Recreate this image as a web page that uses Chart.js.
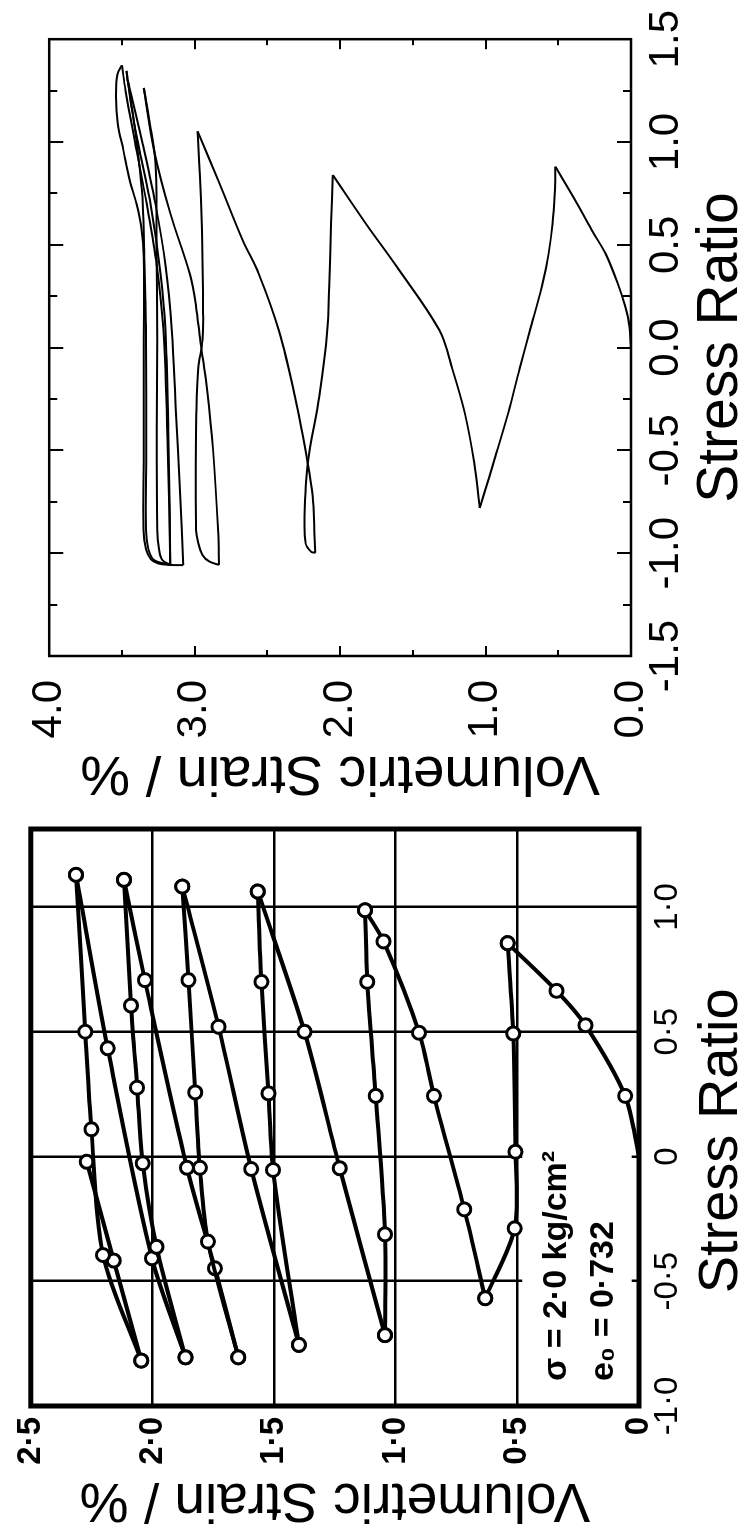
<!DOCTYPE html>
<html>
<head>
<meta charset="utf-8">
<script src="https://cdn.jsdelivr.net/npm/chart.js@4.4.1/dist/chart.umd.min.js"></script>
<style>
  html, body { margin: 0; padding: 0; background: #fff; overflow: hidden; }
  body { width: 746px; height: 1530px; position: relative; }
  /* the figure is laid out landscape and turned a quarter turn */
  #sheet { position: absolute; left: 0; top: 0; width: 1530px; height: 746px;
           transform-origin: 0 0; transform: translateY(1530px) rotate(-90deg); }
  #sheet canvas { position: absolute; top: 0; }
</style>
</head>
<body>
<div id="sheet">
  <canvas id="leftChart" width="720" height="746" style="left:0"></canvas>
  <canvas id="rightChart" width="810" height="746" style="left:720px"></canvas>
</div>
<script>
// right panel, continuous record: [stress ratio, volumetric strain %]
const rLoad1 = [[0,0],[0.1,0.01],[0.2,0.04],[0.3,0.085],[0.45,0.17],[0.56,0.26],[0.7,0.37],[0.88,0.52]];
const rUnload1 = [[0.88,0.52],[0.75,0.525],[0.6,0.54],[0.45,0.568],[0.3,0.612],[0.085,0.694],[-0.1,0.765],[-0.32,0.845],[-0.56,0.945],[-0.7,1.005],[-0.78,1.04]];
const rReload1 = [[-0.78,1.04],[-0.56,1.078],[-0.32,1.142],[-0.1,1.23],[0.085,1.318],[0.393,1.61],[0.6,1.82],[0.839,2.05]];
const rUnload2 = [[0.839,2.05],[0.6,2.062],[0.3,2.075],[0.085,2.088],[-0.239,2.144],[-0.563,2.222],[-0.822,2.244],[-0.952,2.237],[-0.993,2.199],[-0.998,2.17]];
const rReload2 = [[-0.998,2.17],[-0.887,2.177],[-0.725,2.188],[-0.563,2.222],[-0.239,2.31],[0.085,2.422],[0.36,2.56],[0.523,2.67],[0.8,2.83],[1.052,2.98]];
const rUnload3 = [[1.052,2.98],[0.8,2.962],[0.5,2.948],[0.2,2.942],[0.036,2.946],[-0.1,2.975],[-0.3,2.988],[-0.6,2.992],[-0.887,2.99],[-0.95,2.975],[-1.01,2.945],[-1.04,2.9],[-1.057,2.833]];
const rReload3 = [[-1.057,2.833],[-0.9,2.838],[-0.5,2.873],[-0.2,2.915],[-0.05,2.945],[0.036,2.962],[0.2,2.99],[0.36,3.034],[0.652,3.167],[0.96,3.279],[1.263,3.35]];
const rUnload4 = [[1.263,3.35],[1.1,3.31],[0.895,3.27],[0.5,3.262],[0.036,3.257],[-0.4,3.26],[-0.887,3.257],[-0.98,3.245],[-1.033,3.223],[-1.057,3.167]];
const rReload4 = [[-1.057,3.167],[-0.8,3.172],[-0.4,3.182],[0.085,3.2],[0.36,3.234],[0.684,3.3],[0.96,3.379],[1.17,3.435],[1.346,3.468]];
const rUnload5 = [[1.346,3.468],[1.284,3.457],[1.073,3.412],[0.879,3.379],[0.7,3.357],[0.44,3.346],[0.036,3.334],[-0.5,3.333],[-0.887,3.335],[-0.98,3.318],[-1.033,3.28],[-1.057,3.167]];
const rReload5 = [[-1.057,3.167],[-0.5,3.185],[0.085,3.215],[0.4,3.26],[0.7,3.33],[1.0,3.41],[1.25,3.475],[1.373,3.5]];
const rUnload6 = [[1.373,3.5],[1.33,3.53],[1.22,3.54],[1.09,3.528],[0.96,3.49],[0.814,3.446],[0.7,3.4],[0.587,3.367],[0.44,3.35],[0.036,3.35],[-0.5,3.35],[-0.887,3.352],[-0.98,3.335],[-1.03,3.3],[-1.05,3.25],[-1.057,3.17],[-1.058,3.078]];
const rReload6 = [[-1.058,3.078],[-0.7,3.1],[-0.3,3.13],[0.085,3.157],[0.4,3.2],[0.7,3.27],[1.0,3.36],[1.3,3.46]];

// left panel, measured points
const lLoad1 = [[0,0],[0.243,0.057],[0.526,0.22],[0.664,0.339],[0.855,0.54]];
const lUnload1 = [[0.855,0.54],[0.493,0.517],[0.019,0.508],[-0.288,0.511],[-0.568,0.632]];
const lReload1 = [[-0.568,0.632],[-0.212,0.718],[0.243,0.843],[0.496,0.904],[0.862,1.05],[0.987,1.126]];
const lUnload2 = [[0.987,1.126],[0.7,1.117],[0.243,1.082],[-0.312,1.044],[-0.716,1.044]];
const lReload2 = [[-0.716,1.044],[-0.047,1.23],[0.5,1.375],[1.062,1.567]];
const lUnload3 = [[1.062,1.567],[0.7,1.552],[0.253,1.523],[-0.054,1.504],[-0.755,1.398]];
const lReload3 = [[-0.755,1.398],[-0.05,1.594],[0.52,1.728],[1.082,1.877]];
const lUnload4 = [[1.082,1.877],[0.707,1.852],[0.257,1.824],[-0.045,1.805],[-0.341,1.772],[-0.805,1.647]];
const lReload4 = [[-0.805,1.647],[-0.448,1.743],[-0.045,1.858],[0.707,2.031],[1.109,2.117]];
const lUnload5 = [[1.109,2.117],[0.605,2.088],[0.276,2.063],[-0.027,2.04],[-0.362,1.983],[-0.805,1.864]];
const lReload5 = [[-0.805,1.864],[-0.408,2.002],[0.434,2.184],[1.129,2.314]];
const lUnload6 = [[1.129,2.314],[0.5,2.276],[0.109,2.251],[-0.395,2.203],[-0.818,2.046]];
const lReload6 = [[-0.818,2.046],[-0.417,2.159],[-0.021,2.27]];

// tick labels
const rSrTicks = [-1.5, -1.0, -0.5, 0, 0.5, 1.0, 1.5];
const rSrLabels = ['-1.5', '-1.0', '-0.5', '0.0', '0.5', '1.0', '1.5'];
const rStrainTicks = [0, 1, 2, 3, 4];
const rStrainLabels = ['0.0', '1.0', '2.0', '3.0', '4.0'];
const lSrTicks = [-1.0, -0.5, 0, 0.5, 1.0];
const lSrLabels = ['-1·0', '-0·5', '0', '0·5', '1·0'];
const lStrainTicks = [0, 0.5, 1.0, 1.5, 2.0, 2.5];
const lStrainLabels = ['0', '0·5', '1·0', '1·5', '2·0', '2·5'];

const noteLines = ['σ = 2·0 kg/cm²', 'e₀ = 0·732'];

const rightCurves = [rLoad1, rUnload1, rReload1, rUnload2, rReload2, rUnload3, rReload3,
  rUnload4, rReload4, rUnload5, rReload5, rUnload6, rReload6];
const leftBranches = [lLoad1, lUnload1, lReload1, lUnload2, lReload2, lUnload3, lReload3,
  lUnload4, lReload4, lUnload5, lReload5, lUnload6, lReload6];

Chart.defaults.font.family = '"Liberation Sans", Arial, Helvetica, sans-serif';
Chart.defaults.color = '#000';

function toXY(arr) {
  return arr.map(p => ({x: p[0], y: p[1]}));
}

function labelFrom(values, labels) {
  return function (v) {
    let i = values.findIndex(t => Math.abs(t - v) < 1e-6);
    return i < 0 ? '' : labels[i];
  };
}

// frame round the plot area, with short inward ticks on the right panel
const frameTicks = {
  id: 'frameTicks',
  afterDraw(chart, args, opts) {
    let ctx = chart.ctx, a = chart.chartArea;
    let xs = chart.scales.x, ys = chart.scales.y;
    ctx.save();
    ctx.strokeStyle = '#000';
    if (opts.ticks) {
      ctx.lineWidth = 2;
      ctx.beginPath();
      xs.ticks.forEach(t => {
        let p = Math.round(xs.getPixelForValue(t.value));
        let len = t.label ? 14 : 8;
        ctx.moveTo(p, a.bottom); ctx.lineTo(p, a.bottom - len);
        ctx.moveTo(p, a.top); ctx.lineTo(p, a.top + len);
      });
      ys.ticks.forEach(t => {
        let p = Math.round(ys.getPixelForValue(t.value));
        let len = t.label ? 10 : 6;
        ctx.moveTo(a.left, p); ctx.lineTo(a.left + len, p);
        ctx.moveTo(a.right, p); ctx.lineTo(a.right - len, p);
      });
      ctx.stroke();
    }
    ctx.lineWidth = opts.width;
    ctx.strokeRect(a.left, a.top, a.right - a.left, a.bottom - a.top);
    ctx.restore();
  }
};

// test conditions written inside the left panel
const noteText = {
  id: 'noteText',
  beforeDatasetsDraw(chart, args, opts) {
    let ctx = chart.ctx, xs = chart.scales.x, ys = chart.scales.y;
    let l = xs.getPixelForValue(opts.box[0]), r = xs.getPixelForValue(opts.box[1]);
    let t = ys.getPixelForValue(opts.box[3]), b = ys.getPixelForValue(opts.box[2]);
    ctx.save();
    ctx.fillStyle = '#fff';
    ctx.fillRect(l, t, r - l, b - t);
    ctx.restore();
  },
  afterDatasetsDraw(chart, args, opts) {
    let ctx = chart.ctx, xs = chart.scales.x, ys = chart.scales.y;
    ctx.save();
    ctx.fillStyle = '#000';
    ctx.font = 'bold 34px "Liberation Sans", Arial, sans-serif';
    ctx.textAlign = 'left';
    ctx.textBaseline = 'alphabetic';
    opts.lines.forEach((txt, i) => {
      ctx.fillText(txt, xs.getPixelForValue(opts.at[i][0]), ys.getPixelForValue(opts.at[i][1]));
    });
    ctx.restore();
  }
};

let rightChart = new Chart(document.getElementById('rightChart'), {
  type: 'scatter',
  data: {
    datasets: rightCurves.map(c => ({
      data: toXY(c),
      showLine: true,
      borderColor: '#000',
      borderWidth: 2,
      pointRadius: 0,
      tension: 0.35
    }))
  },
  options: {
    responsive: false,
    animation: false,
    events: [],
    layout: { padding: { left: 0, right: 39, top: 32, bottom: 0 } },
    plugins: {
      legend: { display: false },
      tooltip: { enabled: false },
      frameTicks: { ticks: true, width: 2.5 }
    },
    scales: {
      x: {
        type: 'linear', position: 'bottom', min: -1.5, max: 1.5,
        grid: { display: false, drawTicks: false },
        border: { display: false },
        ticks: { stepSize: 0.25, autoSkip: false, maxRotation: 0, padding: 10,
                 font: { size: 42 }, callback: labelFrom(rSrTicks, rSrLabels) },
        title: { display: true, text: 'Stress Ratio', font: { size: 57, lineHeight: 0.8 },
                 padding: { top: 0, bottom: 2 } },
        afterFit: s => { s.height = 115; }
      },
      y: {
        type: 'linear', position: 'left', min: 0, max: 4,
        grid: { display: false, drawTicks: false },
        border: { display: false },
        ticks: { stepSize: 0.5, autoSkip: false, padding: 24,
                 font: { size: 42 }, callback: labelFrom(rStrainTicks, rStrainLabels) },
        title: { display: true, text: 'Volumetric Strain / %', font: { size: 56, lineHeight: 0.8 },
                 padding: { top: 15, bottom: 0 } },
        afterFit: s => { s.width = 154; }
      }
    }
  },
  plugins: [frameTicks]
});

let leftChart = new Chart(document.getElementById('leftChart'), {
  type: 'scatter',
  data: {
    datasets: leftBranches.map((b, k) => ({
      data: toXY(b),
      showLine: true,
      borderColor: '#000',
      borderWidth: 4,
      tension: 0.3,
      pointRadius: ctx => (k === 0 && ctx.dataIndex === 0) ? 0 : 6.5,
      pointBorderWidth: 3,
      pointBorderColor: '#000',
      pointBackgroundColor: '#fff'
    }))
  },
  options: {
    responsive: false,
    animation: false,
    events: [],
    layout: { padding: { left: 0, right: 19, top: 20, bottom: 0 } },
    plugins: {
      legend: { display: false },
      tooltip: { enabled: false },
      frameTicks: { ticks: false, width: 5 },
      noteText: { lines: noteLines, at: [[-0.9, 0.3], [-0.9, 0.105]], box: [-0.99, 0.02, 0.03, 0.48] }
    },
    scales: {
      x: {
        type: 'linear', position: 'bottom', min: -1.0, max: 1.3126,
        grid: { color: '#000', lineWidth: 2.5, drawTicks: false },
        border: { display: false },
        ticks: { stepSize: 0.5, includeBounds: false, autoSkip: false, maxRotation: 0, padding: 9.5,
                 font: { size: 33 }, callback: labelFrom(lSrTicks, lSrLabels) },
        title: { display: true, text: 'Stress Ratio\u00a0\u00a0\u00a0', font: { size: 56, lineHeight: 0.8 },
                 padding: { top: 0, bottom: 2 } },
        afterFit: s => { s.height = 107; }
      },
      y: {
        type: 'linear', position: 'left', min: 0, max: 2.5,
        grid: { color: '#000', lineWidth: 2.5, drawTicks: false },
        border: { display: false },
        ticks: { stepSize: 0.5, autoSkip: false, padding: 11,
                 font: { size: 33, weight: 'bold' }, callback: labelFrom(lStrainTicks, lStrainLabels) },
        title: { display: true, text: 'Volumetric Strain / %', font: { size: 55, lineHeight: 0.8 },
                 padding: { top: 9, bottom: 0 } },
        afterFit: s => { s.width = 124; }
      }
    }
  },
  plugins: [frameTicks, noteText]
});
</script>
</body>
</html>
